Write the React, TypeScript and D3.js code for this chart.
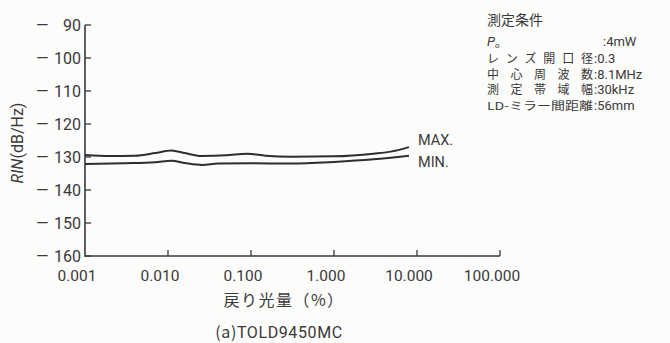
import React from 'react';
import * as d3 from 'd3';

// 戻り光量 (%) vs RIN (dB/Hz)
const maxX = [0.001, 0.002, 0.004, 0.007, 0.011, 0.016, 0.025, 0.05, 0.09, 0.15, 0.3, 1, 3, 5, 8];
const maxY = [-129.4, -129.7, -129.6, -128.8, -128.0, -128.8, -129.7, -129.5, -129.0, -129.6, -129.9, -129.8, -129.0, -128.3, -127.0];
const minX = [0.001, 0.003, 0.007, 0.011, 0.016, 0.026, 0.04, 0.1, 0.3, 1, 3, 8];
const minY = [-132.1, -131.9, -131.6, -131.1, -131.8, -132.4, -132.0, -131.9, -132.0, -131.5, -130.7, -129.6];

const xTicks = [0.001, 0.01, 0.1, 1, 10, 100];
const xTickLabels = ['0.001', '0.010', '0.100', '1.000', '10.000', '100.000'];
const yTicks = [-90, -100, -110, -120, -130, -140, -150, -160];

const condLabels = ['レンズ開口径', '中心周波数', '測定帯域幅', 'LD-ミラー間距離'];
const condValues = ['0.3', '8.1MHz', '30kHz', '56mm'];

const ink = '#3a3a3a';
const font = 'Roboto, "Noto Sans CJK JP", sans-serif';
const jp = '"Noto Sans CJK JP", sans-serif';

export default function App() {
  const x = d3.scaleLog().domain([0.001, 100]).range([85, 500]);
  const y = d3.scaleLinear().domain([-160, -90]).range([256, 25]);

  const line = d3.line<[number, number]>()
    .x(d => x(d[0]))
    .y(d => y(d[1]))
    .curve(d3.curveMonotoneX);

  const maxPts = maxX.map((v, i) => [v, maxY[i]] as [number, number]);
  const minPts = minX.map((v, i) => [v, minY[i]] as [number, number]);

  return (
    <svg width={670} height={343} style={{ position: 'absolute', left: 0, top: 0 }} fontFamily={font}>
      <rect width={670} height={343} fill="#fcfcfa" />

      {/* axes */}
      <path d={`M${x(0.001)},${y(-90)}V${y(-160)}H${x(100)}`} fill="none" stroke={ink} strokeWidth={1.6} />
      {yTicks.map(t => (
        <g key={t}>
          <line x1={x(0.001)} x2={x(0.001) + 6} y1={y(t)} y2={y(t)} stroke={ink} strokeWidth={1.3} />
          <text x={36} y={y(t) + 5.5} fontSize={16} fill={ink}>—</text>
          <text x={81} y={y(t) + 5.5} fontSize={16} fill={ink} textAnchor="end">{Math.abs(t)}</text>
        </g>
      ))}
      {xTicks.map((t, i) => (
        <g key={t}>
          {i > 0 && <line x1={x(t)} x2={x(t)} y1={y(-160)} y2={y(-160) - 6} stroke={ink} strokeWidth={1.3} />}
          <text x={x(t) - 8} y={281} fontSize={15.5} fill={ink} textAnchor="middle">{xTickLabels[i]}</text>
        </g>
      ))}

      {/* y label */}
      <text transform="translate(23,143) rotate(-90)" fontSize={16} fill={ink} textAnchor="middle">
        <tspan fontStyle="italic">RIN</tspan>(dB/Hz)
      </text>

      {/* x label */}
      <text x={284} y={306} fontSize={16} fill={ink} textAnchor="middle" fontFamily={jp} letterSpacing={1.5}>戻り光量（%）</text>
      <text x={279} y={338} fontSize={16} fill={ink} textAnchor="middle" fontFamily={font} letterSpacing={0.6}>
        <tspan fontFamily={jp}>(a)</tspan>TOLD9450MC
      </text>

      {/* curves */}
      <path d={line(maxPts) ?? ''} fill="none" stroke="#2e2e2e" strokeWidth={2} />
      <path d={line(minPts) ?? ''} fill="none" stroke="#2e2e2e" strokeWidth={2} />
      <text x={418} y={145} fontSize={14.5} fill={ink}>MAX.</text>
      <text x={418} y={167} fontSize={14.5} fill={ink}>MIN.</text>

      {/* measurement conditions */}
      <text x={487} y={25} fontSize={14} fill={ink} fontFamily={jp}>測定条件</text>
      <text x={487} y={46} fontSize={13} fill={ink}>
        <tspan fontStyle="italic">P</tspan><tspan fontSize={8} dy={2}>o</tspan>
      </text>
      <text x={603} y={46} fontSize={13} fill={ink}>:4mW</text>
      {condLabels.map((l, i) => (
        <g key={l}>
          <text x={487} y={63 + i * 15.7} fontSize={i === 3 ? 11 : 12} fill={ink} fontFamily={jp}
            textLength={106} lengthAdjust={i === 3 ? 'spacingAndGlyphs' : 'spacing'}>{l}</text>
          <text x={594} y={63 + i * 15.7} fontSize={13} fill={ink}>:{condValues[i]}</text>
        </g>
      ))}
    </svg>
  );
}
